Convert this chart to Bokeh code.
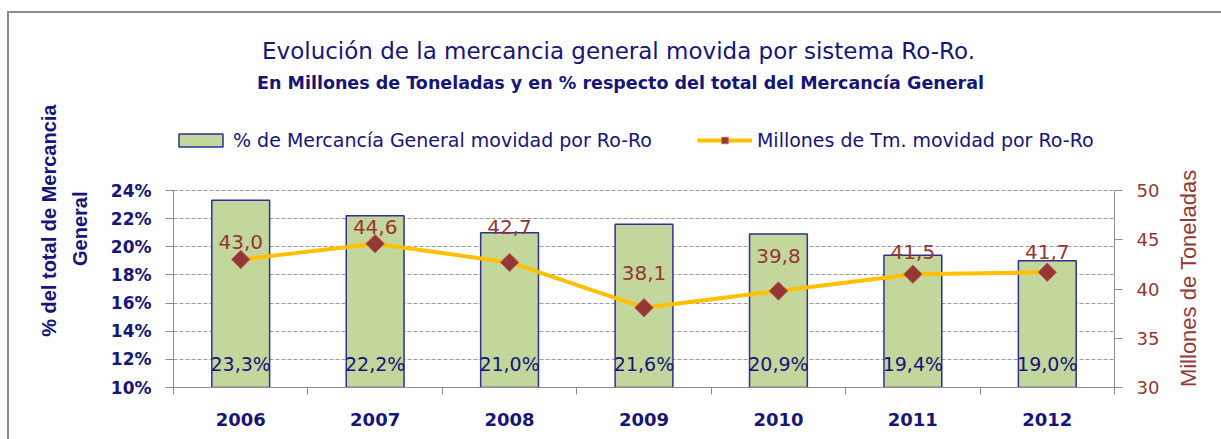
import numpy as np
from bokeh.plotting import figure
from bokeh.models import (Range1d, LinearAxis, FixedTicker, Legend, LegendItem,
                          ColumnDataSource, Label)
from bokeh.embed import file_html
from bokeh.resources import INLINE
from bokeh.core.properties import value

# ---------------- data ----------------
years = ["2006", "2007", "2008", "2009", "2010", "2011", "2012"]
pct_mercancia = [23.3, 22.2, 21.0, 21.6, 20.9, 19.4, 19.0]      # % of general cargo (bars)
millones_tm = [43.0, 44.6, 42.7, 38.1, 39.8, 41.5, 41.7]         # million tonnes (line)
pct_ticks = [10, 12, 14, 16, 18, 20, 22, 24]
tm_ticks = [30, 35, 40, 45, 50]

# label vertical offsets (px) for the tonnage data labels
tm_label_dy = [-17, -17, -35, -35, -35, -22, -20]

FONT = "DejaVu Sans"
AFONT = "Liberation Sans"
NAVY = "#15157A"
BROWN = "#953735"
GRAY = "#8C8C8C"

# ---------------- layout constants (pixels) ----------------
W, H = 1221, 439
AX_LEFT, AX_RIGHT = 173, 1114      # x of the value axes
AX_TOP, AX_BOTTOM = 190, 387       # y of the top and bottom of the value scale
# the drawing frame reaches the top of the canvas so that titles/legend live inside it
px_per_pct = (AX_BOTTOM - AX_TOP) / (pct_ticks[-1] - pct_ticks[0])
px_per_tm = (AX_BOTTOM - AX_TOP) / (tm_ticks[-1] - tm_ticks[0])
pct_end = pct_ticks[0] + AX_BOTTOM / px_per_pct
tm_end = tm_ticks[0] + AX_BOTTOM / px_per_tm


def ypct(py):
    """page pixel row -> value on the % scale"""
    return pct_ticks[0] + (AX_BOTTOM - py) / px_per_pct


def ytm(py):
    """page pixel row -> value on the tonnes scale"""
    return tm_ticks[0] + (AX_BOTTOM - py) / px_per_tm


def xcat(px):
    """page pixel column -> value on the category scale"""
    return 0.5 + (px - AX_LEFT) * len(years) / (AX_RIGHT - AX_LEFT)


xs = list(range(1, len(years) + 1))
src = ColumnDataSource(dict(
    x=xs,
    pct=pct_mercancia,
    tm=millones_tm,
    pct_lbl=[f"{v:.1f}".replace(".", ",") + "%" for v in pct_mercancia],
    tm_lbl=[f"{v:.1f}".replace(".", ",") for v in millones_tm],
    dy=tm_label_dy,
))

p = figure(width=W, height=H, x_range=Range1d(0.5, len(years) + 0.5),
           y_range=Range1d(pct_ticks[0], pct_end),
           output_backend="svg", toolbar_location=None,
           min_border_left=AX_LEFT, min_border_right=W - AX_RIGHT, min_border_top=0,
           min_border_bottom=H - AX_BOTTOM,
           outline_line_color=None, background_fill_alpha=0, border_fill_alpha=0)
p.title.visible = False
# outer chart border (left and top edges visible in the reference)
p.styles = {
    "background": "linear-gradient(#8A8A8A,#8A8A8A) 7px 11px / 2px 100% no-repeat, "
                  "linear-gradient(#8A8A8A,#8A8A8A) 7px 11px / 100% 2px no-repeat, white"
}

p.extra_y_ranges = {"tm": Range1d(tm_ticks[0], tm_end)}

# x axis: labels at category centres, ticks between categories
xa = p.xaxis[0]
xa.ticker = FixedTicker(ticks=xs, minor_ticks=[x - 0.5 for x in xs] + [xs[-1] + 0.5])
xa.major_label_overrides = {x: y for x, y in zip(xs, years)}
xa.major_tick_line_color = None
xa.major_tick_out = 0
xa.major_tick_in = 0
xa.minor_tick_in = 0
xa.minor_tick_out = 7
xa.minor_tick_line_color = GRAY
xa.axis_line_color = GRAY
xa.major_label_text_font = FONT
xa.major_label_text_font_size = "18px"
xa.major_label_text_font_style = "bold"
xa.major_label_text_color = NAVY
xa.major_label_standoff = 18

ya = p.yaxis[0]
ya.ticker = FixedTicker(ticks=pct_ticks, minor_ticks=[])
ya.bounds = (pct_ticks[0], pct_ticks[-1])
ya.major_label_overrides = {t: f"{t}%" for t in pct_ticks}
ya.major_tick_in = 0
ya.major_tick_out = 8
ya.major_tick_line_color = GRAY
ya.axis_line_color = GRAY
ya.major_label_text_font = FONT
ya.major_label_text_font_size = "17px"
ya.major_label_text_font_style = "bold"
ya.major_label_text_color = NAVY
ya.major_label_standoff = 14

ra = LinearAxis(y_range_name="tm", ticker=FixedTicker(ticks=tm_ticks, minor_ticks=[]),
                bounds=(tm_ticks[0], tm_ticks[-1]))
ra.major_tick_in = 0
ra.major_tick_out = 8
ra.major_tick_line_color = GRAY
ra.axis_line_color = GRAY
ra.major_label_text_font = FONT
ra.major_label_text_font_size = "18px"
ra.major_label_text_color = BROWN
ra.major_label_standoff = 14
p.add_layout(ra, "right")


def title_axis(text, pos, range_name, standoff, size, style, color):
    """A line-less, tick-less axis whose only tick label is an axis title."""
    ax = LinearAxis(ticker=FixedTicker(ticks=[pos], minor_ticks=[]),
                    major_label_overrides={pos: text})
    if range_name:
        ax.y_range_name = range_name
    ax.axis_line_color = None
    ax.major_tick_line_color = None
    ax.minor_tick_line_color = None
    ax.major_tick_in = 0
    ax.major_tick_out = 0
    ax.minor_tick_in = 0
    ax.minor_tick_out = 0
    ax.major_label_orientation = np.pi / 2
    ax.major_label_standoff = standoff
    ax.major_label_text_font = AFONT
    ax.major_label_text_font_size = size
    ax.major_label_text_font_style = style
    ax.major_label_text_color = color
    return ax


# left axis title (two lines; each hangs down from its anchor) and right axis title
p.add_layout(title_axis("General", round(ypct(191), 2), None, 27, "20px", "bold", NAVY), "left")
p.add_layout(title_axis("% del total de Mercancia", round(ypct(104), 2), None, 6, "20px", "bold",
                        NAVY), "left")
p.add_layout(title_axis("Millones de Toneladas", round(ytm(386.6), 2), "tm", 26, "22px", "normal",
                        BROWN), "right")

p.xgrid.visible = False
p.ygrid.grid_line_color = "#9A9A9A"
p.ygrid.grid_line_dash = "4 2"
p.ygrid.grid_line_width = 1

bars = p.vbar(x="x", top="pct", bottom=pct_ticks[0], width=0.43, source=src,
              fill_color="#C3D69B", line_color="#2E3192", line_width=1.5)
line = p.line(x="x", y="tm", source=src, y_range_name="tm", line_color="#FFC000", line_width=4)
marks = p.scatter(x="x", y="tm", source=src, y_range_name="tm", marker="square",
                  angle=np.pi / 4, size=13, fill_color=BROWN, line_color="#B95C59", line_width=1)

p.text(x="x", y=pct_ticks[0], text="pct_lbl", source=src, text_align="center",
       text_baseline="middle", y_offset=-24, text_font=value(FONT), text_font_size="19px",
       text_color=NAVY)
p.text(x="x", y="tm", text="tm_lbl", source=src, y_range_name="tm", text_align="center",
       text_baseline="middle", y_offset="dy", text_font=value(FONT), text_font_size="20px",
       text_color=BROWN)

# ---- titles (inside the tall frame) ----
p.add_layout(Label(x=xcat(618), y=ypct(50),
                   text="Evolución de la mercancia general movida por sistema Ro-Ro.",
                   text_align="center", text_baseline="middle", text_font=FONT,
                   text_font_size="23px", text_color=NAVY))
p.add_layout(Label(x=xcat(620), y=ypct(82),
                   text="En Millones de Toneladas y en % respecto del total del Mercancía General",
                   text_align="center", text_baseline="middle", text_font=FONT,
                   text_font_size="17.5px", text_font_style="bold", text_color=NAVY))

# ---- legend ----
legend = Legend(items=[
    LegendItem(label="% de Mercancía General movidad por Ro-Ro", renderers=[bars]),
    LegendItem(label="Millones de Tm. movidad por Ro-Ro", renderers=[line, marks]),
], orientation="horizontal", location=(0, AX_BOTTOM - 151), glyph_width=55, glyph_height=16,
    label_standoff=5, spacing=45, padding=0, margin=0, border_line_alpha=0,
    background_fill_alpha=0, label_text_font=FONT, label_text_font_size="19px",
    label_text_color=NAVY)
p.add_layout(legend)

open("out.html", "w").write(file_html(p, INLINE))
